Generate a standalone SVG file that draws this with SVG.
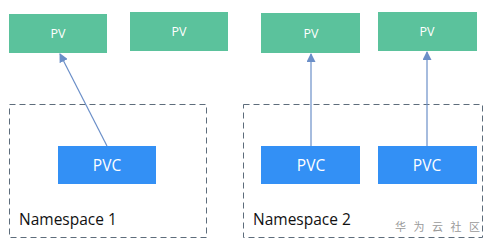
<svg xmlns="http://www.w3.org/2000/svg" width="493" height="248" viewBox="0 0 493 248">
<defs>
<style>
.pv{fill:#5bc29c}
.pvc{fill:#3390f5}
.lbl{fill:#ffffff;font-family:"Open Sans","Noto Sans",sans-serif;text-anchor:middle}
.ns{fill:none;stroke:#5d6c7b;stroke-width:1;stroke-dasharray:6,4}
.nst{fill:#111111;font-family:"Open Sans","Noto Sans",sans-serif;font-size:15.5px}
.conn{stroke:#6b8fc8;stroke-width:1.2;fill:none}
</style>
<marker id="ah" markerWidth="9" markerHeight="9" refX="8" refY="4.5" orient="auto" markerUnits="userSpaceOnUse">
<path d="M0,0 L9,4.5 L0,9 z" fill="#6b8fc8"/>
</marker>
</defs>
<rect width="493" height="248" fill="#ffffff"/>
<g id="ns1"><rect class="ns" x="9.5" y="104.5" width="197" height="133"/><text class="nst" x="19" y="225">Namespace 1</text></g>
<g id="ns2"><rect class="ns" x="243.5" y="104.5" width="239" height="133"/><text class="nst" x="253" y="225">Namespace 2</text></g>
<g id="pv1"><rect class="pv" x="9" y="14" width="98" height="39"/><text class="lbl" x="58" y="38" font-size="12.5">PV</text></g>
<g id="pv2"><rect class="pv" x="130" y="12" width="98" height="39"/><text class="lbl" x="179" y="36" font-size="12.5">PV</text></g>
<g id="pv3"><rect class="pv" x="261" y="13" width="99" height="40"/><text class="lbl" x="311" y="38" font-size="12.5">PV</text></g>
<g id="pv4"><rect class="pv" x="378" y="12" width="99" height="39"/><text class="lbl" x="427" y="36" font-size="12.5">PV</text></g>
<g id="pvc1"><rect class="pvc" x="58" y="146" width="98" height="38"/><text class="lbl" x="107" y="171" font-size="15.5">PVC</text></g>
<g id="pvc2"><rect class="pvc" x="261" y="146" width="99" height="38"/><text class="lbl" x="311" y="171" font-size="15.5">PVC</text></g>
<g id="pvc3"><rect class="pvc" x="378" y="146" width="99" height="38"/><text class="lbl" x="427" y="171" font-size="15.5">PVC</text></g>
<g id="connectors">
<line class="conn" x1="107" y1="146" x2="60" y2="54" marker-end="url(#ah)"/>
<line class="conn" x1="311" y1="146" x2="311" y2="54" marker-end="url(#ah)"/>
<line class="conn" x1="427" y1="146" x2="427" y2="52" marker-end="url(#ah)"/>
</g>
<text x="395" y="231" font-family="'Noto Sans CJK SC',sans-serif" font-size="11" fill="#9a9a9a" letter-spacing="7.5">华为云社区</text>
</svg>
